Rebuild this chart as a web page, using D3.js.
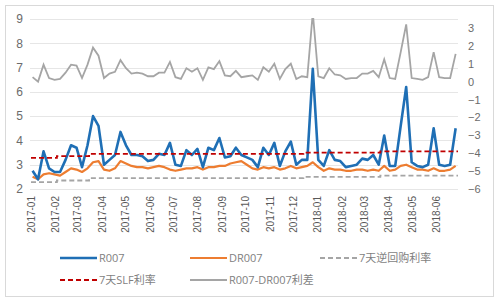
<!DOCTYPE html>
<html><head><meta charset="utf-8">
<script src="https://cdn.jsdelivr.net/npm/d3@7"></script>
<style>
body{margin:0;background:#fff;}
svg{display:block;font-family:"Open Sans","Noto Sans","Noto Sans CJK SC",sans-serif;}
</style></head><body>
<script>
// Weekly observations (start date + weekly step)
const startDate = "2017-01-03";
const r007 = [2.75,2.4,3.55,2.85,2.7,2.7,3.2,3.8,3.7,2.9,3.8,5.0,4.6,3.0,3.2,3.4,4.35,3.8,3.4,
  3.4,3.35,3.15,3.2,3.45,3.4,3.9,3.0,2.95,3.6,3.4,3.65,2.9,3.7,3.6,4.1,3.3,3.35,3.7,3.4,
  3.3,3.2,2.9,3.7,3.4,3.9,2.95,3.55,3.95,3.0,3.2,3.2,6.95,3.2,2.95,3.6,3.2,3.15,2.9,
  2.95,3.0,3.25,3.2,3.4,3.0,4.2,2.95,2.95,4.6,6.2,3.1,2.95,2.9,3.0,4.5,3.0,2.95,3.0,4.5];
const dr007 = [2.5,2.4,2.6,2.65,2.6,2.55,2.7,2.85,2.8,2.7,2.85,3.1,3.15,2.8,2.75,2.85,3.15,3.05,2.95,
  2.9,2.9,2.85,2.9,2.95,2.9,2.8,2.75,2.8,2.85,2.85,2.9,2.8,2.9,2.9,2.95,2.95,3.05,3.1,3.15,
  3.0,2.85,2.8,2.9,2.85,2.9,2.8,2.85,2.95,2.85,2.9,2.95,3.1,2.9,2.75,2.85,2.8,2.8,2.75,
  2.75,2.8,2.8,2.75,2.8,2.75,2.95,2.75,2.8,2.95,3.0,2.9,2.8,2.8,2.75,2.85,2.75,2.75,2.8,2.95];
// Policy rates (step changes)
const policyDates = ["2017-01-01","2017-02-03","2017-03-16","2017-12-14","2018-03-22","2018-06-29"];
const reverseRepo = [2.28,2.35,2.45,2.50,2.55,2.55];
const slfRate = [3.28,3.35,3.45,3.50,3.55,3.55];
const leftTicks = [2,3,4,5,6,7,8,9];
const rightTicks = [-6,-5,-4,-3,-2,-1,0,1,2,3];
const xTickMonths = ["2017-01","2017-02","2017-03","2017-04","2017-05","2017-06","2017-07","2017-08","2017-09",
  "2017-10","2017-11","2017-12","2018-01","2018-02","2018-03","2018-04","2018-05","2018-06"];
const seriesNames = ["R007","DR007","7天逆回购利率","7天SLF利率","R007-DR007利差"];

const W=500,H=305;
const parse=d3.timeParse("%Y-%m-%d");
const t0=parse(startDate);
const dates=r007.map((_,i)=>d3.timeDay.offset(t0,7*i));
const spread=r007.map((v,i)=>v-dr007[i]);

const svg=d3.select("body").append("svg").attr("width",W).attr("height",H);
svg.append("rect").attr("x",5.5).attr("y",5.5).attr("width",488).attr("height",291)
  .attr("fill","#fff").attr("stroke","#d9d9d9");

const x=d3.scaleTime().domain([parse("2017-01-01"),parse("2018-06-29")]).range([31,458]);
const yL=d3.scaleLinear().domain([2,9]).range([189,19]);
const yR=d3.scaleLinear().domain([-6,3.5]).range([189,19]);

svg.append("defs").append("clipPath").attr("id","clip").append("rect")
  .attr("x",0).attr("y",18).attr("width",W).attr("height",173);

// gridlines
svg.append("g").selectAll("line").data(leftTicks).join("line")
  .attr("x1",30).attr("x2",458).attr("y1",d=>Math.round(yL(d))+0.5).attr("y2",d=>Math.round(yL(d))+0.5)
  .attr("stroke","#e6e6e6").attr("stroke-width",1);

// left axis
const gl=svg.append("g").attr("transform","translate(23,0)")
  .call(d3.axisLeft(yL).tickValues(leftTicks).tickFormat(d3.format("d")).tickSize(0).tickPadding(0));
gl.select(".domain").remove();
gl.selectAll("text").attr("fill","#6b6b6b").style("font-size","12px");
// right axis
const gr=svg.append("g").attr("transform","translate(468,0)")
  .call(d3.axisRight(yR).tickValues(rightTicks).tickFormat(d3.format("d")).tickSize(0).tickPadding(0));
gr.select(".domain").remove();
gr.selectAll("text").attr("fill","#6b6b6b").style("font-size","11px");

// x axis labels
const gx=svg.append("g").attr("transform","translate(0,190)")
  .call(d3.axisBottom(x).tickValues(xTickMonths.map(m=>parse(m+"-01"))).tickSize(0).tickFormat(d3.timeFormat("%Y-%m")));
gx.select(".domain").remove();
gx.selectAll("text").attr("fill","#595959").style("font-size","10px")
  .attr("text-anchor","end").attr("dy","0.35em").attr("transform","translate(0,6) rotate(-90)")
  .attr("x",0).attr("y",0);

const plot=svg.append("g").attr("clip-path","url(#clip)");
const pd=policyDates.map(parse);
const stepLine=(arr,sc)=>d3.line().curve(d3.curveStepAfter).x((d,i)=>x(pd[i])).y(d=>sc(d))(arr);
const line=(arr,sc)=>d3.line().x((d,i)=>x(dates[i])).y(d=>sc(d))(arr);

plot.append("path").attr("d",line(spread,yR)).attr("fill","none").attr("stroke","#a5a5a5").attr("stroke-width",1.8);
plot.append("path").attr("d",stepLine(reverseRepo,yL)).attr("fill","none").attr("stroke","#a5a5a5").attr("stroke-width",1.8).attr("stroke-dasharray","5,3");
plot.append("path").attr("d",line(dr007,yL)).attr("fill","none").attr("stroke","#ed7d31").attr("stroke-width",2.2).attr("stroke-linejoin","round");
plot.append("path").attr("d",line(r007,yL)).attr("fill","none").attr("stroke","#1f6fb5").attr("stroke-width",2.6).attr("stroke-linejoin","round");
plot.append("path").attr("d",stepLine(slfRate,yL)).attr("fill","none").attr("stroke","#c00000").attr("stroke-width",1.8).attr("stroke-dasharray","5,3");

// legend
const leg=[
  {n:seriesNames[0],c:"#1f6fb5",d:null,w:2.6,x:60,y:258},
  {n:seriesNames[1],c:"#ed7d31",d:null,w:2.2,x:190,y:258},
  {n:seriesNames[2],c:"#a5a5a5",d:"5,3",w:1.8,x:320,y:258},
  {n:seriesNames[3],c:"#c00000",d:"5,3",w:1.8,x:60,y:280},
  {n:seriesNames[4],c:"#a5a5a5",d:null,w:1.8,x:190,y:280}];
const lg=svg.append("g").selectAll("g").data(leg).join("g").attr("transform",d=>`translate(${d.x},${d.y})`);
lg.append("line").attr("x1",0).attr("x2",37).attr("stroke",d=>d.c).attr("stroke-width",d=>d.w).attr("stroke-dasharray",d=>d.d);
lg.append("text").attr("x",39).attr("dy","0.35em").text(d=>d.n).attr("fill","#7f7f7f").style("font-size","11px");
</script></body></html>
